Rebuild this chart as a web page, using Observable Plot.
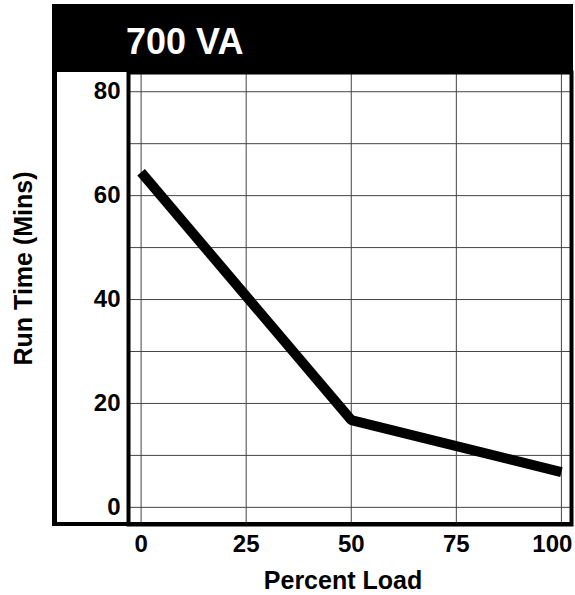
<!DOCTYPE html>
<html><head><meta charset="utf-8">
<script src="https://cdn.jsdelivr.net/npm/d3@7"></script>
<script src="https://cdn.jsdelivr.net/npm/@observablehq/plot@0.6"></script>
<style>body{margin:0;background:#fff} svg{display:block}</style>
</head><body><div id="chart"></div>
<script>
const title = "700 VA";
const loadPct = [0, 50, 100];
const runMins = [64.5, 16.8, 6.8];
const xTicks = [0, 25, 50, 75, 100];
const yTicks = [0, 20, 40, 60, 80];
const yGrid = [0, 10, 20, 30, 40, 50, 60, 70, 80];
const xLabel = "Percent Load";
const yLabel = "Run Time (Mins)";

const data = loadPct.map((x, i) => ({x, y: runMins[i]}));
const font = "'Liberation Sans', Arial, Helvetica, sans-serif";

const plot = Plot.plot({
  width: 575, height: 595,
  marginLeft: 128, marginRight: 4, marginTop: 72, marginBottom: 71,
  style: {fontFamily: font, background: "#fff", color: "#000"},
  x: {domain: [-3, 102.4]},
  y: {domain: [-3.3, 83.7]},
  marks: [
    Plot.gridX(xTicks, {stroke: "#444", strokeOpacity: 1, strokeWidth: 1}),
    Plot.gridY(yGrid, {stroke: "#444", strokeOpacity: 1, strokeWidth: 1}),
    Plot.line(data, {x: "x", y: "y", stroke: "#000", strokeWidth: 10, strokeLinejoin: "miter", strokeLinecap: "butt"}),
    Plot.axisY(yTicks, {tickSize: 0, tickPadding: 8, fontSize: 24, fontWeight: "bold", label: null}),
    Plot.axisX(xTicks.slice(0, 4), {tickSize: 0, tickPadding: 10, fontSize: 24, fontWeight: "bold", label: null}),
    Plot.axisX(xTicks.slice(4), {tickSize: 0, tickPadding: 10, fontSize: 24, fontWeight: "bold", label: null, textAnchor: "end", dx: 11}),
    Plot.text([xLabel], {frameAnchor: "bottom", textAnchor: "middle", dx: -7, dy: 56, fontSize: 25, fontWeight: "bold", lineAnchor: "middle", fill: "#000"}),
    Plot.text([yLabel], {frameAnchor: "left", textAnchor: "middle", rotate: -90, dx: -105, dy: -30, fontSize: 25, fontWeight: "bold", lineAnchor: "middle", fill: "#000"}),
    Plot.frame({stroke: "#000", strokeWidth: 4})
  ]
});

const svg = d3.select(plot);
svg.append("rect").attr("x", 52).attr("y", 4).attr("width", 521).attr("height", 68).attr("fill", "#000");
svg.append("text").attr("x", 126).attr("y", 54).attr("fill", "#fff").attr("text-anchor", "start")
  .attr("font-size", 36).attr("font-weight", "bold").attr("font-family", font).text(title);
svg.append("line").attr("x1", 54.5).attr("x2", 54.5).attr("y1", 4).attr("y2", 526).attr("stroke", "#000").attr("stroke-width", 5);
svg.append("line").attr("x1", 52).attr("x2", 573).attr("y1", 524).attr("y2", 524).attr("stroke", "#000").attr("stroke-width", 4);
document.getElementById("chart").appendChild(plot);
</script></body></html>
